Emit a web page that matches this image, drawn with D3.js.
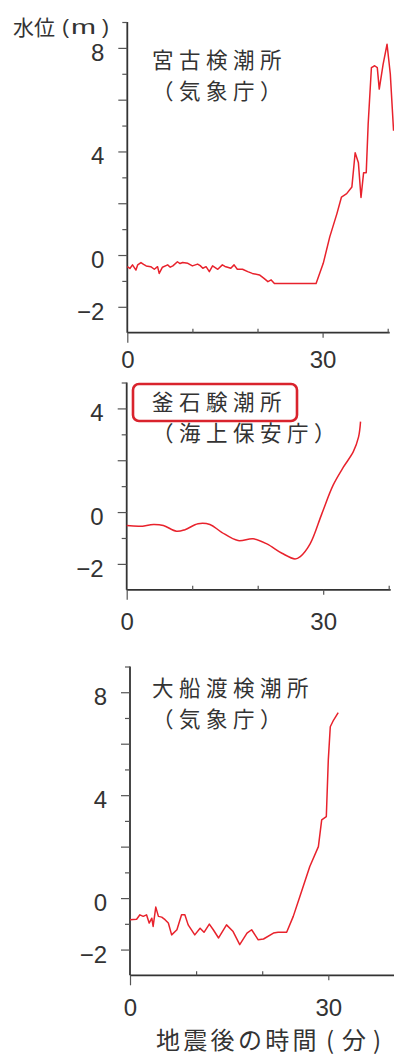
<!DOCTYPE html>
<html>
<head>
<meta charset="utf-8">
<script src="https://cdn.jsdelivr.net/npm/d3@7"></script>
<style>
  html, body { margin: 0; padding: 0; background: #fff; }
  svg { display: block; }
</style>
</head>
<body>
<svg id="chart" width="394" height="1055"></svg>
<script>
// Tide gauge records after the earthquake: water level (m) vs minutes.

// 宮古検潮所（気象庁）
const miyakoTime = [0, 0.4, 0.8, 1.33, 1.6, 2.1, 2.5, 2.9, 3.6, 4.15, 4.65, 4.9, 5.4, 6.2, 6.6, 7.0, 7.7,
  8.1, 8.5, 9.3, 10.0, 10.8, 11.2, 11.6, 12.1, 12.6, 13.1, 13.9, 14.6, 15.0, 15.4, 15.9, 16.4, 16.9,
  17.7, 18.5, 19.2, 20.3, 21.0, 21.6, 22.1, 22.6, 29.0, 30.1, 31.1, 32.2, 32.9, 33.7, 34.5, 35.0,
  35.5, 35.9, 36.3, 36.7, 37.0, 37.5, 38.0, 38.4, 38.7, 39.3, 39.9, 40.4, 40.9];
const miyakoLevel = [-0.45, -0.52, -0.38, -0.58, -0.38, -0.29, -0.36, -0.42, -0.45, -0.55, -0.45, -0.71,
  -0.47, -0.38, -0.47, -0.42, -0.26, -0.33, -0.29, -0.32, -0.42, -0.35, -0.41, -0.51, -0.45, -0.64,
  -0.42, -0.55, -0.38, -0.44, -0.47, -0.51, -0.38, -0.55, -0.55, -0.64, -0.71, -0.77, -0.90, -1.03,
  -0.96, -1.10, -1.10, -0.32, 0.70, 1.60, 2.24, 2.37, 2.63, 3.95, 3.56, 2.22, 3.18, 3.18, 5.06, 7.24,
  7.31, 7.24, 6.41, 7.37, 8.14, 6.99, 4.80];

// 釜石験潮所（海上保安庁）
const kamaishiTime = [0, 2.0, 4.1, 5.6, 7.6, 8.9, 10.9, 12.7, 14.5, 17.0, 19.3, 21.4, 23.7, 25.7,
  26.5, 28.0, 29.8, 31.5, 33.1, 34.6, 35.4, 35.7];
const kamaishiLevel = [-0.52, -0.55, -0.48, -0.52, -0.74, -0.68, -0.45, -0.48, -0.78, -1.10, -1.03,
  -1.23, -1.59, -1.81, -1.72, -1.23, -0.06, 1.03, 1.74, 2.33, 2.90, 3.49];

// 大船渡検潮所（気象庁）
const ofunatoTime = [0, 1.0, 1.5, 2.0, 2.5, 2.9, 3.3, 3.5, 3.9, 4.3, 4.8, 5.3, 5.8, 6.3, 7.1, 7.8,
  8.3, 8.8, 9.8, 10.6, 11.2, 12.0, 12.6, 13.4, 14.6, 15.6, 16.6, 17.7, 18.4, 19.4, 20.2, 21.7,
  22.4, 23.7, 24.7, 25.7, 27.2, 28.5, 29.0, 29.7, 30.0, 30.3, 30.8, 31.5];
const ofunatoLevel = [-0.84, -0.82, -0.65, -0.71, -0.65, -0.97, -0.78, -1.10, -0.35, -0.71, -0.74,
  -0.84, -0.97, -1.43, -1.23, -0.65, -0.65, -1.04, -1.43, -1.17, -1.33, -1.01, -1.23, -1.55, -1.04,
  -1.30, -1.81, -1.36, -1.23, -1.62, -1.59, -1.36, -1.33, -1.33, -0.71, 0.06, 1.23, 2.00, 3.04,
  3.17, 5.37, 6.66, 6.92, 7.21];

// Axis labels
const yLabelsTall = [8, 4, 0, -2];
const yLabelsShort = [4, 0, -2];
const xLabels = [0, 30];
const xTicks = [0, 10, 20, 30, 40];

const LINE_RED = "#e8222c";
const INK = "#333";
const NUM_FONT = "'Liberation Sans', Arial, sans-serif";
const JP_FONT = "'Noto Sans CJK JP', 'Noto Sans', sans-serif";

const svg = d3.select("#chart");

// Place each character of a string at its own x (fixed pitch)
function pitchX(x0, str, pitch) {
  return Array.from(str).map((_, i) => (x0 + i * pitch).toFixed(1)).join(" ");
}

function drawPanel(p) {
  const x = d3.scaleLinear().domain([0, 40]).range(p.xRange);
  const y = d3.scaleLinear().domain(p.yDomain).range(p.yRange);
  const g = svg.append("g");

  // Left axis: a tick every metre, longer on even values
  const yAxis = d3.axisLeft(y)
    .tickValues(d3.range(p.yDomain[0], p.yDomain[1] + 1))
    .tickSize(5)
    .tickFormat(d => p.yLabels.includes(d) ? (d < 0 ? "\u2212" + Math.abs(d) : String(d)) : "");
  const ya = g.append("g")
    .attr("transform", `translate(${p.xRange[0]},0)`)
    .call(yAxis);
  ya.select(".domain").attr("d", `M0,${y(p.yDomain[1])}V${y(p.yDomain[0])}`)
    .attr("stroke", INK).attr("stroke-width", 1.8);
  ya.selectAll(".tick line")
    .attr("stroke", "#555").attr("stroke-width", 1.2)
    .attr("x2", d => (d % 2 === 0 ? -9 : -5));
  ya.selectAll(".tick text")
    .attr("x", -23).attr("dy", "0.52em")
    .attr("font-family", NUM_FONT).attr("font-size", 24).attr("fill", INK);
  ya.selectAll(".tick").filter(d => d === p.yDomain[0]).select("line").remove();

  // Bottom axis
  const xAxis = d3.axisBottom(x)
    .tickValues(xTicks)
    .tickSize(0)
    .tickFormat(d => xLabels.includes(d) ? String(d) : "");
  const xa = g.append("g")
    .attr("transform", `translate(0,${p.yRange[0]})`)
    .call(xAxis);
  xa.select(".domain").attr("d", `M${p.xRange[0]},0H${x(40) + 2}`)
    .attr("stroke", INK).attr("stroke-width", 1.8);
  xa.selectAll(".tick line")
    .attr("stroke", "#555").attr("stroke-width", 1.2)
    .attr("y1", d => (d === 0 || d === 30 ? 0 : -4))
    .attr("y2", d => (d === 0 ? 10 : d === 30 ? 5 : 0));
  xa.selectAll(".tick text")
    .attr("y", p.xLabelOffset).attr("dy", "0.36em")
    .attr("font-family", NUM_FONT).attr("font-size", 24).attr("fill", INK);

  // Water level trace
  const pts = p.time.map((t, i) => [t, p.level[i]]);
  g.append("path")
    .datum(pts)
    .attr("fill", "none")
    .attr("stroke", LINE_RED)
    .attr("stroke-width", 1.5)
    .attr("stroke-linejoin", "round")
    .attr("d", d3.line().x(d => x(d[0])).y(d => y(d[1])).curve(p.curve)(pts));

  // Station name
  if (p.boxed) {
    g.append("rect")
      .attr("x", 133).attr("y", p.titleY - 26)
      .attr("width", 164).attr("height", 37)
      .attr("rx", 6)
      .attr("fill", "#fff")
      .attr("stroke", "#d9232d").attr("stroke-width", 2.6);
  }
  g.append("text")
    .attr("x", pitchX(152, p.name, 27)).attr("y", p.titleY)
    .attr("font-family", JP_FONT).attr("font-size", 21.5).attr("fill", INK)
    .text(p.name);
  g.append("text")
    .attr("x", pitchX(152, p.agency, 27)).attr("y", p.titleY + 31)
    .attr("font-family", JP_FONT).attr("font-size", 21.5).attr("fill", INK)
    .text(p.agency);
}

drawPanel({
  name: "宮古検潮所", agency: "（気象庁）", titleY: 68,
  time: miyakoTime, level: miyakoLevel, curve: d3.curveLinear,
  xRange: [127.3, 387.7], yDomain: [-3, 9], yRange: [332.7, 22],
  yLabels: yLabelsTall, xLabelOffset: 27
});

drawPanel({
  name: "釜石験潮所", agency: "（海上保安庁）", titleY: 410, boxed: true,
  time: kamaishiTime, level: kamaishiLevel, curve: d3.curveCatmullRom,
  xRange: [126.7, 388.7], yDomain: [-3, 5], yRange: [589.8, 382.5],
  yLabels: yLabelsShort, xLabelOffset: 32
});

drawPanel({
  name: "大船渡検潮所", agency: "（気象庁）", titleY: 696,
  time: ofunatoTime, level: ofunatoLevel, curve: d3.curveLinear,
  xRange: [130, 394.4], yDomain: [-3, 9], yRange: [975.3, 666.5],
  yLabels: yLabelsTall, xLabelOffset: 32
});

// Vertical axis title: 水位(m)
svg.append("text")
  .attr("x", 13).attr("y", 35)
  .attr("font-family", JP_FONT).attr("font-size", 21).attr("fill", INK)
  .text("水位");
const unit = svg.append("text")
  .attr("y", 33.5)
  .attr("font-family", NUM_FONT).attr("font-size", 21).attr("fill", INK);
unit.append("tspan").attr("x", 62).text("(");
unit.append("tspan").attr("x", 71).attr("textLength", 25)
  .attr("lengthAdjust", "spacingAndGlyphs").text("m");
unit.append("tspan").attr("x", 102).text(")");

// Horizontal axis title
const xTitle = svg.append("text")
  .attr("y", 1049)
  .attr("font-family", JP_FONT).attr("font-size", 24).attr("fill", INK);
xTitle.append("tspan").attr("x", pitchX(156, "地震後の時間", 27.3)).text("地震後の時間");
xTitle.append("tspan").attr("x", "326 342 373").text("(分)");
</script>
</body>
</html>
